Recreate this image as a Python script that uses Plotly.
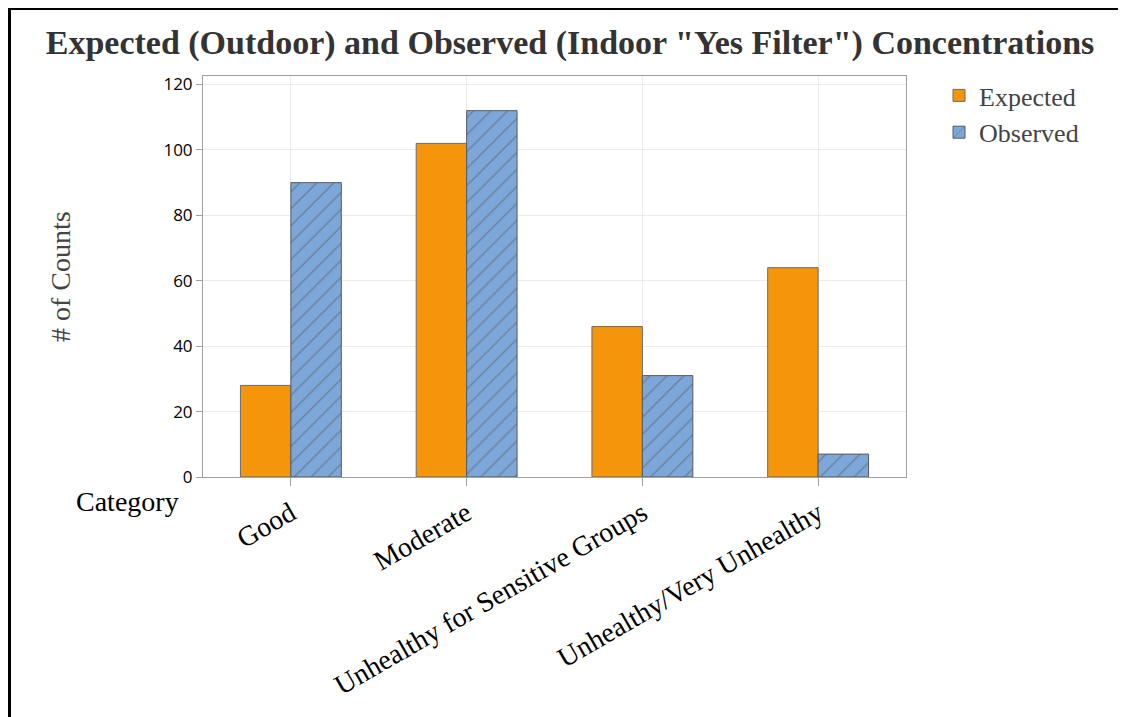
import plotly.graph_objects as go

categories = ["Good", "Moderate", "Unhealthy for Sensitive Groups", "Unhealthy/Very Unhealthy"]
expected = [28, 102, 46, 64]
observed = [90, 112, 31, 7]
y_ticks = [0, 20, 40, 60, 80, 100, 120]

W, H = 1126, 717
OFF = 8  # page body margin
# plot area in screen pixels: x 203..906, y 76..477
L, T = 203 - OFF, 76 - OFF
R, B = W - (906 - OFF), H - (477 - OFF)
pw, ph = W - L - R, H - T - B

def px_x(sx):
    return (sx - OFF - L) / pw

def px_y(sy):
    return (H - B - (sy - OFF)) / ph

fig = go.Figure()
fig.add_trace(go.Bar(
    name="Expected", x=categories, y=expected,
    marker=dict(color="#F4950A", line=dict(color="#6b6b6b", width=1)),
))
fig.add_trace(go.Bar(
    name="Observed", x=categories, y=observed,
    marker=dict(color="#7DA6D9", line=dict(color="#5a5a5a", width=1),
                pattern=dict(shape="/", fgcolor="#4a4a4a", size=12, solidity=0.1)),
))

serif = "Liberation Serif, Times New Roman, serif"
fig.update_layout(
    width=W, height=H,
    margin=dict(l=L, r=R, t=T, b=B, autoexpand=False),
    paper_bgcolor="white", plot_bgcolor="white",
    barmode="group", bargap=0.426, bargroupgap=0,
    title=dict(text='<b>Expected (Outdoor) and Observed (Indoor "Yes Filter") Concentrations</b>',
               x=(570 - OFF) / W, xanchor="center", y=1 - (42 - OFF) / H, yanchor="middle",
               font=dict(family=serif, size=34, color="#333333")),
    legend=dict(x=px_x(939), xanchor="left", y=px_y(72), yanchor="top",
                font=dict(family=serif, size=26, color="#444444"),
                bgcolor="rgba(0,0,0,0)", tracegroupgap=0),
    showlegend=True,
    xaxis=dict(range=[-0.5, 3.5], tickangle=-30,
               tickfont=dict(family=serif, size=28, color="#000000"),
               showgrid=True, gridcolor="#ebebeb", gridwidth=1,
               showline=True, linecolor="#a0a0a0", linewidth=1, mirror=True,
               ticks="outside", ticklen=8, tickcolor="#a0a0a0"),
    yaxis=dict(range=[0, 122.6], tickvals=y_ticks,
               tickfont=dict(family="Open Sans, Noto Sans, sans-serif", size=17, color="#000000"),
               showgrid=True, gridcolor="#ebebeb", gridwidth=1,
               showline=True, linecolor="#a0a0a0", linewidth=1, mirror=True,
               ticks="outside", ticklen=6, tickcolor="#a0a0a0", zeroline=False),
    annotations=[
        dict(text="Category", x=px_x(127), y=px_y(501), xref="paper", yref="paper",
             xanchor="center", yanchor="middle", showarrow=False,
             font=dict(family=serif, size=28, color="#000000")),
        dict(text="# of Counts", x=px_x(60), y=px_y(277), xref="paper", yref="paper",
             xanchor="center", yanchor="middle", showarrow=False, textangle=-90,
             font=dict(family=serif, size=28, color="#444444")),
    ],
    shapes=[
        dict(type="line", xref="paper", yref="paper", x0=px_x(8), x1=px_x(1140),
             y0=px_y(8.5), y1=px_y(8.5), line=dict(color="black", width=3)),
        dict(type="line", xref="paper", yref="paper", x0=px_x(9.5), x1=px_x(9.5),
             y0=px_y(7), y1=px_y(730), line=dict(color="black", width=3)),
    ],
)

fig.write_html("out.html")
